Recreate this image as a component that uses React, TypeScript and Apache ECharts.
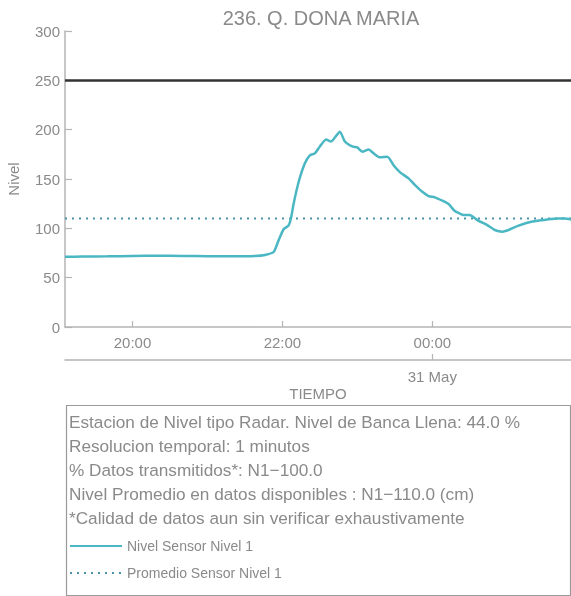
import React, { useEffect, useRef } from "react";
import * as echarts from "echarts";

const TITLE = "236. Q. DONA MARIA";
const X_START = "30 19:06";
const X_END = "31 01:51";
const TICK_TIMES = ["30 20:00", "30 22:00", "31 00:00"];
const DATE_TICK = "31 00:00";
const DATE_LABEL = "31 May";
const Y_TICKS = [0, 50, 100, 150, 200, 250, 300];
const BANKFULL_LEVEL = 250;
const MEAN_LEVEL = 110;

const levelTimes = [
  "30 19:06", "30 19:20", "30 19:40", "30 20:00", "30 20:20", "30 20:40", "30 21:00",
  "30 21:20", "30 21:38", "30 21:46", "30 21:53", "30 21:57", "30 22:01", "30 22:05",
  "30 22:07", "30 22:09", "30 22:13", "30 22:18", "30 22:22", "30 22:26", "30 22:30",
  "30 22:35", "30 22:39", "30 22:46", "30 22:50", "30 22:56", "30 23:00", "30 23:04",
  "30 23:09", "30 23:13", "30 23:18", "30 23:24", "30 23:29", "30 23:34", "30 23:41",
  "30 23:46", "30 23:52", "30 23:57", "31 00:02", "31 00:08", "31 00:13", "31 00:18",
  "31 00:22", "31 00:25", "31 00:30", "31 00:36", "31 00:44", "31 00:50", "31 00:56",
  "31 01:01", "31 01:08", "31 01:16", "31 01:24", "31 01:32", "31 01:40", "31 01:46",
  "31 01:51",
];
const levelValues = [
  71.2, 71.4, 71.6, 72, 72.3, 72, 71.8,
  71.7, 72, 73, 76, 88, 99, 103,
  111, 125, 147, 166, 174, 176, 183,
  190, 188, 198, 188, 183, 182, 177.6,
  180, 176, 172, 172.6, 164, 157, 150.6,
  144, 137, 132.7, 131.4, 128, 124.6, 117.5,
  115, 113.5, 113.5, 108.4, 103.3, 98.3, 96.6,
  98.3, 102.3, 105.7, 107.7, 109, 110, 110,
  109,
];

const infoLines = [
  "Estacion de Nivel tipo Radar. Nivel de Banca Llena: 44.0 %",
  "Resolucion temporal: 1 minutos",
  "% Datos transmitidos*: N1\u2212100.0",
  "Nivel Promedio en datos disponibles : N1\u2212110.0 (cm)",
  "*Calidad de datos aun sin verificar exhaustivamente",
];
const SERIES_LEVEL = "Nivel Sensor Nivel 1";
const SERIES_MEAN = "Promedio Sensor Nivel 1";

function ts(s: string): number {
  const [d, hm] = s.split(" ");
  const [h, m] = hm.split(":").map(Number);
  return new Date(2023, 4, Number(d), h, m).getTime();
}

function hhmm(v: number): string {
  const d = new Date(v);
  const p = (n: number) => (n < 10 ? "0" + n : "" + n);
  return p(d.getHours()) + ":" + p(d.getMinutes());
}

const FONT = "'Liberation Sans', Arial, Helvetica, sans-serif";
const GRAY_TEXT = "#8a8a8a";
const AXIS_GRAY = "#b4b4b4";

export default function App() {
  const ref = useRef<HTMLDivElement>(null);
  useEffect(() => {
    if (!ref.current) return;
    const chart = echarts.init(ref.current, null, { renderer: "svg" });
    const xMin = ts(X_START);
    const xMax = ts(X_END);
    const tickVals = TICK_TIMES.map(ts);
    const levelData = levelTimes.map((t, i) => [ts(t), levelValues[i]]);
    const meanData = [[xMin, MEAN_LEVEL], [xMax, MEAN_LEVEL]];

    const infoTexts = infoLines.map((line, i) => ({
      type: "text",
      x: 69,
      y: 422 + i * 24,
      style: { text: line, fill: GRAY_TEXT, font: `17.2px ${FONT}`, verticalAlign: "middle" },
    }));

    chart.setOption({
      animation: false,
      textStyle: { fontFamily: FONT },
      title: {
        text: TITLE,
        left: 316,
        textAlign: "center",
        top: 3,
        textStyle: { color: GRAY_TEXT, fontSize: 20, fontWeight: "normal", fontFamily: FONT },
      },
      grid: { left: 65, right: 0, top: 31, bottom: 269, containLabel: false, outerBoundsMode: "none" },
      xAxis: [
        {
          type: "value",
          min: xMin,
          max: xMax,
          axisLine: { show: true, lineStyle: { color: AXIS_GRAY, width: 1.5 } },
          axisTick: { show: true, inside: true, length: 6, lineStyle: { color: AXIS_GRAY, width: 1.2 }, customValues: tickVals },
          axisLabel: {
            customValues: tickVals,
            formatter: (v: number) => hhmm(v),
            color: GRAY_TEXT,
            fontSize: 15,
            margin: 8,
            fontFamily: FONT,
          },
          splitLine: { show: false },
        },
        {
          type: "value",
          min: xMin,
          max: xMax,
          position: "bottom",
          offset: 33,
          name: "TIEMPO",
          nameLocation: "middle",
          nameGap: 26,
          nameTextStyle: { color: GRAY_TEXT, fontSize: 15, fontFamily: FONT },
          axisLine: { show: true, lineStyle: { color: AXIS_GRAY, width: 1.5 } },
          axisTick: { show: true, inside: true, length: 6, lineStyle: { color: AXIS_GRAY, width: 1.2 }, customValues: [ts(DATE_TICK)] },
          axisLabel: {
            customValues: [ts(DATE_TICK)],
            formatter: () => DATE_LABEL,
            color: GRAY_TEXT,
            fontSize: 15,
            margin: 9,
            fontFamily: FONT,
          },
          splitLine: { show: false },
        },
      ],
      yAxis: {
        type: "value",
        min: Y_TICKS[0],
        max: Y_TICKS[Y_TICKS.length - 1],
        interval: 50,
        name: "Nivel",
        nameLocation: "middle",
        nameGap: 44,
        nameTextStyle: { color: GRAY_TEXT, fontSize: 15, fontFamily: FONT },
        axisLine: { show: true, lineStyle: { color: AXIS_GRAY, width: 1.5 } },
        axisTick: { show: true, inside: true, length: 7, lineStyle: { color: AXIS_GRAY, width: 1.2 } },
        axisLabel: { color: GRAY_TEXT, fontSize: 15, margin: 5, fontFamily: FONT },
        splitLine: { show: false },
      },
      legend: {
        orient: "vertical",
        left: 64,
        top: 534,
        padding: 5,
        itemWidth: 52,
        itemHeight: 12,
        itemGap: 13,
        itemStyle: { opacity: 0 },
        textStyle: { color: GRAY_TEXT, fontSize: 14, fontFamily: FONT },
        data: [SERIES_LEVEL, SERIES_MEAN],
      },
      series: [
        {
          name: SERIES_LEVEL,
          type: "line",
          data: levelData,
          symbol: "none",
          smooth: 0.2,
          lineStyle: { color: "#4ab7c3", width: 2.5 },
          itemStyle: { color: "#4ab7c3" },
          z: 3,
          markLine: {
            silent: true,
            symbol: "none",
            label: { show: false },
            lineStyle: { color: "#333333", width: 2.5, type: "solid" },
            data: [{ yAxis: BANKFULL_LEVEL }],
          },
        },
        {
          name: SERIES_MEAN,
          type: "line",
          data: meanData,
          symbol: "none",
          lineStyle: { color: "#4a93a8", width: 2, type: [2, 5] },
          itemStyle: { color: "#4a93a8" },
          z: 2,
        },
      ],
      graphic: [
        {
          type: "rect",
          left: 64,
          top: 403,
          shape: { width: 504, height: 190 },
          style: { fill: "none", stroke: "#9a9a9a", lineWidth: 1.2 },
          z: -1,
        },
        ...infoTexts,
      ],
    });
    return () => chart.dispose();
  }, []);
  return (
    <div
      ref={ref}
      style={{ position: "fixed", left: 0, top: 0, width: 571, height: 596 }}
    />
  );
}
